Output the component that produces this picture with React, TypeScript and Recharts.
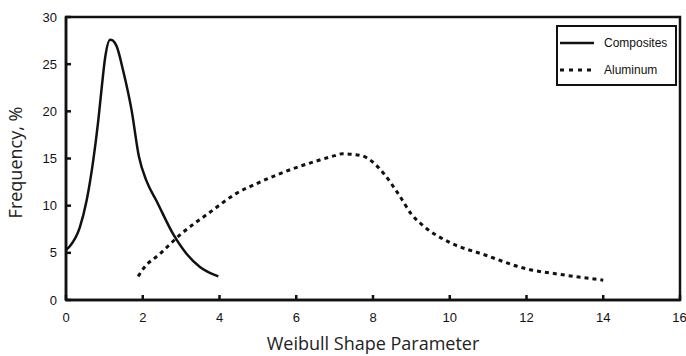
import { LineChart, Line, XAxis, YAxis, ReferenceArea, Label } from "recharts";

// Weibull shape parameter distributions
const compositesX = [0, 0.1, 0.36, 0.54, 0.71, 0.84, 0.93, 1.02, 1.15, 1.22, 1.32, 1.49, 1.71, 1.9, 2.1, 2.36, 2.79, 3.14, 3.49, 3.97];
const compositesY = [5.3, 5.7, 7.7, 10.6, 14.8, 19.0, 22.5, 25.7, 27.6, 27.5, 26.9, 24.3, 20.1, 15.2, 12.6, 10.5, 7.0, 4.9, 3.5, 2.5];

const aluminumX = [1.88, 2.01, 2.45, 2.97, 3.75, 4.44, 5.0, 5.9, 6.5, 7.0, 7.2, 7.7, 8.0, 8.3, 8.7, 9.0, 9.3, 10.0, 10.9, 12.0, 12.9, 14.0];
const aluminumY = [2.5, 3.3, 4.9, 6.9, 9.3, 11.3, 12.4, 13.9, 14.7, 15.3, 15.5, 15.3, 14.6, 13.3, 11.0, 9.1, 7.9, 6.1, 4.8, 3.3, 2.7, 2.1];

const xTicks = [0, 2, 4, 6, 8, 10, 12, 14, 16];
const yTicks = [0, 5, 10, 15, 20, 25, 30];

const composites = compositesX.map((x, i) => ({ x, y: compositesY[i] }));
const aluminum = aluminumX.map((x, i) => ({ x, y: aluminumY[i] }));

const tickFont = { fontFamily: "'Liberation Sans Narrow', 'Liberation Sans', Arial", fontSize: 13, fill: "#111" };
const legendFont = { fontFamily: "'Liberation Sans Narrow', 'Liberation Sans', Arial", fontSize: 12, fill: "#111" };
const labelFont = "'Open Sans', 'Noto Sans', sans-serif";

const LegendBox = () => (
    <div style={{ position: "absolute", left: 556, top: 25, border: "2px solid #111", background: "#fff", width: 121, height: 61, boxSizing: "border-box" }}>
        <svg width={117} height={57} style={{ display: "block" }}>
            <line x1={2} x2={36} y1={16} y2={16} stroke="#111" strokeWidth={2.5} />
            <text x={46} y={20} {...legendFont}>Composites</text>
            <line x1={2} x2={36} y1={43} y2={43} stroke="#111" strokeWidth={3} strokeDasharray="4 5" />
            <text x={46} y={47} {...legendFont}>Aluminum</text>
        </svg>
    </div>
);

const App = () => {
    return (
        <div style={{ position: "absolute", left: 0, top: 0, width: 686, height: 356, background: "#fff" }}>
            <LineChart width={686} height={356} margin={{ top: 17, right: 6, bottom: 0, left: 20 }}>
                <XAxis
                    type="number"
                    dataKey="x"
                    domain={[0, 16]}
                    ticks={xTicks}
                    height={56}
                    stroke="#111"
                    strokeWidth={2.5}
                    tickSize={-5}
                    tickMargin={18}
                    tick={tickFont}
                    allowDataOverflow
                >
                    <Label
                        content={({ viewBox }: any) => (
                            <text x={viewBox.x + viewBox.width / 2} y={350} textAnchor="middle" fontFamily={labelFont} fontSize={18} fill="#222">
                                Weibull Shape Parameter
                            </text>
                        )}
                    />
                </XAxis>
                <YAxis
                    type="number"
                    dataKey="y"
                    domain={[0, 30]}
                    ticks={yTicks}
                    width={46}
                    stroke="#111"
                    strokeWidth={2.5}
                    tickSize={-5}
                    tickMargin={14}
                    tick={tickFont}
                    allowDataOverflow
                >
                    <Label
                        content={({ viewBox }: any) => (
                            <text
                                x={22}
                                y={viewBox.y + viewBox.height / 2 + 4}
                                transform={`rotate(-90 22 ${viewBox.y + viewBox.height / 2 + 4})`}
                                textAnchor="middle"
                                fontFamily={labelFont}
                                fontSize={18}
                                fill="#222"
                            >
                                Frequency, %
                            </text>
                        )}
                    />
                </YAxis>
                <ReferenceArea x1={0} x2={16} y1={0} y2={30} fill="none" stroke="#111" strokeWidth={2.5} ifOverflow="visible" />
                <Line
                    data={composites}
                    dataKey="y"
                    name="Composites"
                    type="monotone"
                    stroke="#111"
                    strokeWidth={2.5}
                    dot={false}
                    isAnimationActive={false}
                />
                <Line
                    data={aluminum}
                    dataKey="y"
                    name="Aluminum"
                    type="monotone"
                    stroke="#111"
                    strokeWidth={3}
                    strokeDasharray="4 4"
                    dot={false}
                    isAnimationActive={false}
                />
            </LineChart>
            <LegendBox />
        </div>
    );
};

export default App;
